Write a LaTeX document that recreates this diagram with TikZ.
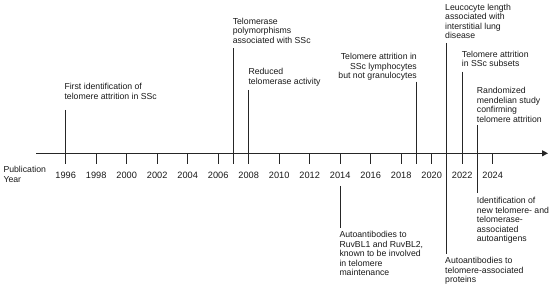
\documentclass[tikz,border=0pt]{standalone}
\usepackage{fontspec}
\setmainfont{Liberation Sans}
\usetikzlibrary{arrows.meta}
\begin{document}
\begin{tikzpicture}[x=1pt,y=-1pt,
  lbl/.style={font=\fontsize{8.7}{9.5}\selectfont, inner sep=0pt, align=left, anchor=north west, text=black!90},
  lblr/.style={lbl, align=right, anchor=north east},
  yr/.style={font=\fontsize{9.2}{10}\selectfont, inner sep=0pt, anchor=center, text=black!90},
  evline/.style={line width=1.1pt, draw=black!85},
  tickline/.style={line width=1.1pt, draw=black!85}]
\useasboundingbox (0,0) rectangle (550,288);

% axis
\coordinate (axL) at (36,153.3);
\coordinate (axR) at (548,153.3);
\draw[evline,-{Triangle[length=6pt,width=6pt]}] (axL) -- (axR);

\node[lbl] (pub) at (3.3,166) {Publication\\Year};

% ticks and year labels
\foreach \yr in {1996,1998,...,2024}{
  \pgfmathsetmacro\xx{65.7+(\yr-1996)*15.25}
  \coordinate (t\yr) at (\xx,153.3);
  \coordinate (b\yr) at (\xx,164.3);
  \draw[tickline] (t\yr) -- (b\yr);
  \node[yr] (y\yr) at (\xx,175) {\yr};
}
\foreach \yr in {2007,2019,2021,2023}{
  \pgfmathsetmacro\xx{65.7+(\yr-1996)*15.25}
  \coordinate (t\yr) at (\xx,153.3);
  \coordinate (b\yr) at (\xx,164.3);
}

% 1996
\node[lbl] (e1996) at (64.3,83.4) {First identification of\\telomere attrition in SSc};
\coordinate (c1996) at (65.7,110);
\draw[evline] (c1996) -- (b1996);

% 2007
\node[lbl] (e2007) at (232.6,17.9) {Telomerase\\polymorphisms\\associated with SSc};
\coordinate (c2007) at (233.45,48.5);
\draw[evline] (c2007) -- (b2007);

% 2008
\node[lbl] (e2008) at (248.3,68.3) {Reduced\\telomerase activity};
\coordinate (c2008) at (248.7,90);
\draw[evline] (c2008) -- (b2008);

% 2019
\node[lblr] (e2019) at (417,53.4) {Telomere attrition in\\SSc lymphocytes\\but not granulocytes};
\coordinate (c2019) at (416.45,81.7);
\draw[evline] (c2019) -- (b2019);

% 2021
\node[lbl] (e2021a) at (445,3.7) {Leucocyte length\\associated with\\interstitial lung\\disease};
\node[lbl] (e2021b) at (445,257.4) {Autoantibodies to\\telomere-associated\\proteins};
\coordinate (c2021a) at (446.2,43);
\coordinate (c2021b) at (446.2,254);
\draw[evline] (c2021a) -- (c2021b);

% 2022
\node[lbl] (e2022) at (461.7,50.9) {Telomere attrition\\in SSc subsets};
\coordinate (c2022) at (462.2,71.7);
\draw[evline] (c2022) -- (b2022);

% 2023
\node[lbl] (e2023a) at (476.7,87) {Randomized\\mendelian study\\confirming\\telomere attrition};
\node[lbl] (e2023b) at (476.7,197.3) {Identification of\\new telomere- and\\telomerase-\\associated\\autoantigens};
\coordinate (c2023a) at (477.4,125.5);
\coordinate (c2023b) at (477.4,193.5);
\draw[evline] (c2023a) -- (c2023b);

% 2014
\node[lbl] (e2014) at (339.3,231) {Autoantibodies to\\RuvBL1 and RuvBL2,\\known to be involved\\in telomere\\maintenance};
\coordinate (c2014a) at (340.2,186);
\coordinate (c2014b) at (340.2,228);
\draw[evline] (c2014a) -- (c2014b);
\end{tikzpicture}
\end{document}
